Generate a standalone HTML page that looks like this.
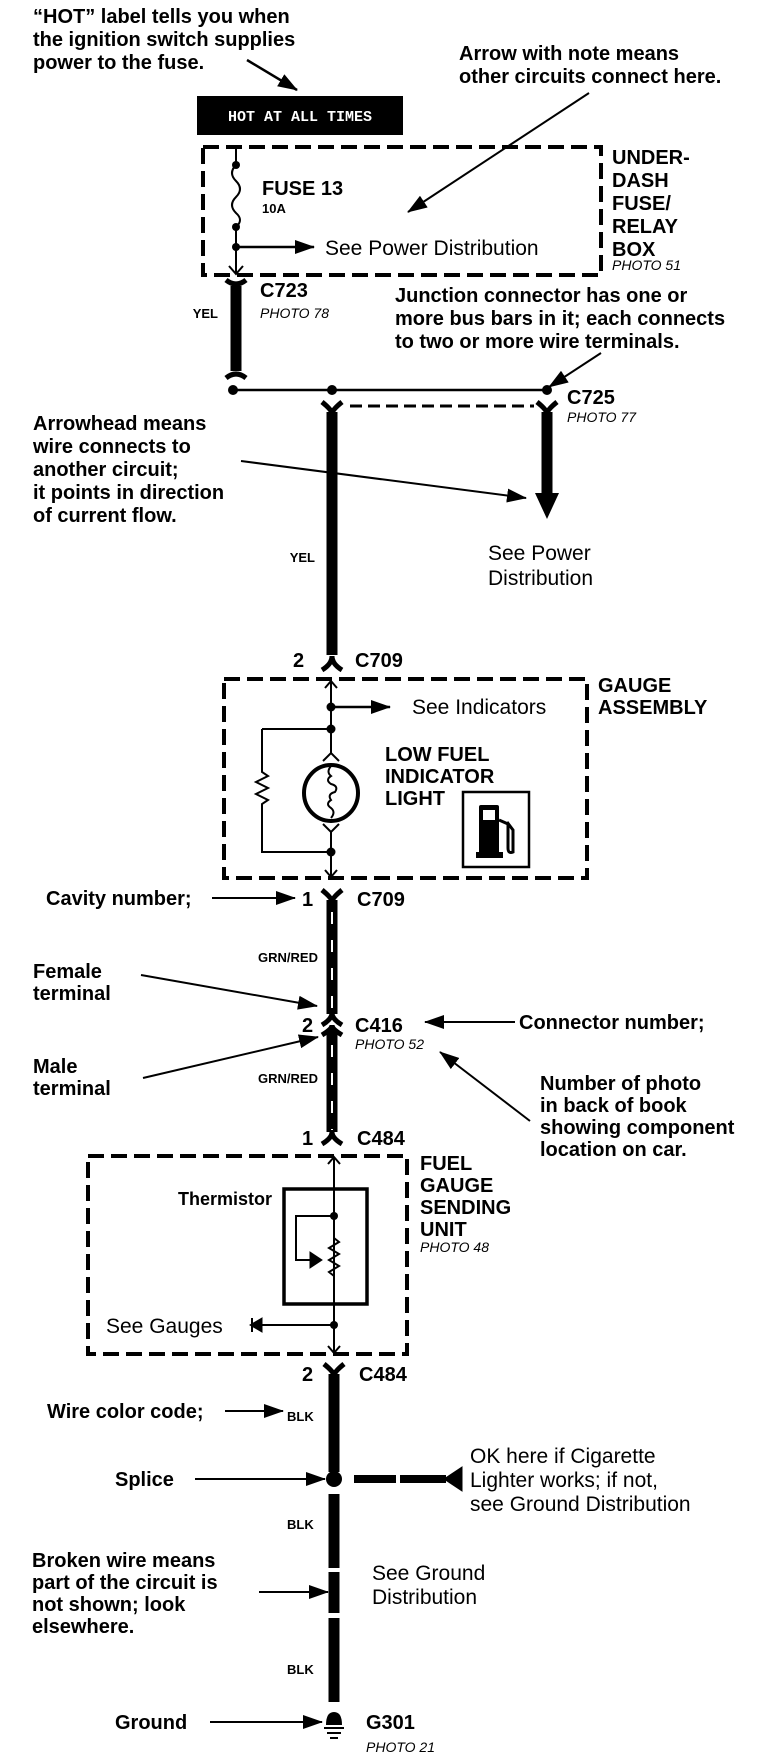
<!DOCTYPE html>
<html><head><meta charset="utf-8"><style>
html,body{margin:0;padding:0;background:#fff}
svg{display:block}
text{font-family:"Liberation Sans",Arial,sans-serif;fill:#000}
.b{font-weight:bold;font-size:20px}
.r{font-size:21px}
.s{font-weight:bold;font-size:13px}
.i{font-style:italic;font-size:14px}
</style></head><body>
<svg width="768" height="1758" viewBox="0 0 768 1758" xmlns="http://www.w3.org/2000/svg">
<defs>
<marker id="ahb" markerWidth="20" markerHeight="14" refX="19" refY="7" orient="auto" markerUnits="userSpaceOnUse"><path d="M0,0 L20,7 L0,14 z" fill="#000"/></marker>
</defs>
<g stroke="#000" fill="none">
<line x1="247" y1="60" x2="297" y2="90" stroke-width="2.5" marker-end="url(#ahb)"/>
<line x1="589" y1="93" x2="408" y2="212" stroke-width="2" marker-end="url(#ahb)"/>
<rect x="203" y="147" width="398" height="128" stroke-width="4" stroke-dasharray="16 7"/>
<line x1="236" y1="147" x2="236" y2="165" stroke-width="2"/>
<path d="M236,165 q-8,8 0,16 q8,8 0,16 q-8,8 0,16 q8,7 0,14" stroke-width="2"/>
<line x1="236" y1="227" x2="236" y2="274" stroke-width="2"/>
<path d="M229,266 L236,274 L243,266" stroke-width="2"/>
<line x1="236" y1="247" x2="314" y2="247" stroke-width="2.5" marker-end="url(#ahb)"/>
<line x1="236" y1="286" x2="236" y2="371" stroke-width="11"/>
<path d="M226,280 Q236,288 246,280" stroke-width="5"/>
<path d="M226,378 Q236,370 246,378" stroke-width="5"/>
<line x1="601" y1="353" x2="549" y2="387" stroke-width="2" marker-end="url(#ahb)"/>
<line x1="233" y1="390" x2="547" y2="390" stroke-width="2.5"/>
<line x1="350" y1="406" x2="534" y2="406" stroke-width="3" stroke-dasharray="12 6"/>
<path d="M322,402 Q332,410 332,414 Q332,410 342,402" stroke-width="5"/>
<path d="M537,402 Q547,410 547,414 Q547,410 557,402" stroke-width="5"/>
<line x1="332" y1="412" x2="332" y2="655" stroke-width="11"/>
<line x1="547" y1="412" x2="547" y2="493" stroke-width="11"/>
<path d="M535,493 L559,493 L547,519 z" fill="#000" stroke="none"/>
<line x1="241" y1="461" x2="526" y2="498" stroke-width="2" marker-end="url(#ahb)"/>
<path d="M322,670 Q332,664 332,656 Q332,664 342,670" stroke-width="5"/>
<rect x="224" y="679" width="363" height="199" stroke-width="4" stroke-dasharray="16 7"/>
<line x1="331" y1="681" x2="331" y2="753" stroke-width="2"/>
<path d="M325,688 L331,681 L337,688" stroke-width="2"/>
<line x1="331" y1="707" x2="390" y2="707" stroke-width="2.5" marker-end="url(#ahb)"/>
<path d="M262,729 L331,729 M262,729 L262,772 l6,4 l-12,6 l12,6 l-12,6 l12,6 l-6,4 L262,852 L331,852" stroke-width="2"/>
<path d="M323,761 L331,753 L339,761" stroke-width="2"/>
<ellipse cx="331" cy="793" rx="27" ry="28" stroke-width="4"/>
<path d="M331,766 q-5,6 0,10 q-6,4 0,8 q8,2 4,8 q-8,2 -4,8 q-6,4 0,8 q5,4 0,10" stroke-width="2"/>
<path d="M323,824 L331,832 L339,824" stroke-width="2"/>
<line x1="331" y1="832" x2="331" y2="877" stroke-width="2"/>
<path d="M325,870 L331,877 L337,870" stroke-width="2"/>
<rect x="463" y="792" width="66" height="75" stroke-width="2.5"/>
<path d="M322,890 Q332,898 332,902 Q332,898 342,890" stroke-width="5"/>
<line x1="332" y1="900" x2="332" y2="1014" stroke-width="11"/>
<line x1="212" y1="898" x2="295" y2="898" stroke-width="2" marker-end="url(#ahb)"/>
<line x1="332" y1="912" x2="332" y2="1010" stroke="#fff" stroke-width="2" stroke-dasharray="12 16"/>
<path d="M322,1025 Q332,1019 332,1013 Q332,1019 342,1025" stroke-width="5"/>
<path d="M322,1035 Q332,1029 332,1025 Q332,1029 342,1035" stroke-width="5"/>
<line x1="332" y1="1030" x2="332" y2="1132" stroke-width="11"/>
<line x1="332" y1="1045" x2="332" y2="1130" stroke="#fff" stroke-width="2" stroke-dasharray="12 16"/>
<path d="M322,1144 Q332,1138 332,1132 Q332,1138 342,1144" stroke-width="5"/>
<line x1="141" y1="975" x2="317" y2="1006" stroke-width="2" marker-end="url(#ahb)"/>
<line x1="143" y1="1078" x2="318" y2="1037" stroke-width="2" marker-end="url(#ahb)"/>
<line x1="515" y1="1022" x2="425" y2="1022" stroke-width="2" marker-end="url(#ahb)"/>
<line x1="530" y1="1121" x2="440" y2="1052" stroke-width="2" marker-end="url(#ahb)"/>
<rect x="88" y="1156" width="319" height="198" stroke-width="4" stroke-dasharray="16 7"/>
<line x1="334" y1="1157" x2="334" y2="1353" stroke-width="2"/>
<path d="M328,1164 L334,1157 L340,1164" stroke-width="2"/>
<rect x="284" y="1189" width="83" height="115" stroke-width="3.5"/>
<path d="M334,1216 L296,1216 L296,1260 L312,1260" stroke-width="2"/>
<path d="M310,1252 L322,1260 L310,1268 z" fill="#000"/>
<path d="M334,1238 l5,4 l-10,6 l10,6 l-10,6 l10,6 l-10,6 l5,4" stroke-width="2"/>
<line x1="334" y1="1325" x2="262" y2="1325" stroke-width="2"/>
<path d="M262,1318 L250,1325 L262,1332 z" fill="#000"/>
<path d="M252,1318 L252,1332" stroke-width="2"/>
<path d="M328,1346 L334,1353 L340,1346" stroke-width="2"/>
<path d="M324,1364 Q334,1372 334,1376 Q334,1372 344,1364" stroke-width="5"/>
<line x1="334" y1="1374" x2="334" y2="1472" stroke-width="11"/>
<line x1="225" y1="1411" x2="283" y2="1411" stroke-width="2" marker-end="url(#ahb)"/>
<line x1="195" y1="1479" x2="325" y2="1479" stroke-width="2" marker-end="url(#ahb)"/>
<line x1="354" y1="1479" x2="396" y2="1479" stroke-width="8"/>
<line x1="400" y1="1479" x2="446" y2="1479" stroke-width="8"/>
<path d="M462,1467 L444,1479 L462,1491 z" fill="#000"/>
<line x1="334" y1="1494" x2="334" y2="1568" stroke-width="11"/>
<line x1="334" y1="1572" x2="334" y2="1613" stroke-width="11"/>
<line x1="334" y1="1618" x2="334" y2="1702" stroke-width="11"/>
<line x1="259" y1="1592" x2="328" y2="1592" stroke-width="2" marker-end="url(#ahb)"/>
<line x1="210" y1="1722" x2="322" y2="1722" stroke-width="2" marker-end="url(#ahb)"/>
<path d="M324,1728 L344,1728 M327,1733 L341,1733 M330,1738 L338,1738" stroke-width="2"/>
</g>
<g fill="#000">
<circle cx="236" cy="165" r="4"/><circle cx="236" cy="227" r="4"/><circle cx="236" cy="247" r="4"/>
<circle cx="233" cy="390" r="5"/><circle cx="332" cy="390" r="5"/><circle cx="547" cy="390" r="5"/>
<circle cx="331" cy="707" r="4.5"/><circle cx="331" cy="729" r="4.5"/><circle cx="331" cy="852" r="4.5"/>
<circle cx="334" cy="1216" r="4"/><circle cx="334" cy="1325" r="4"/>
<circle cx="334" cy="1479" r="8"/>
<path d="M326,1725 Q326,1712 334,1712 Q342,1712 342,1725 z"/>
<rect x="197" y="96" width="206" height="39"/>
<rect x="479" y="805" width="20" height="50" rx="2"/>
<rect x="476" y="852" width="27" height="6"/>
<path d="M499,820 l9,4 l0,24 q0,6 5,4 l0,-22 l-6,-8" fill="none" stroke="#000" stroke-width="3"/>
</g>
<rect x="483" y="810" width="12" height="10" fill="#fff"/>
<g>
<text x="33" y="23" class="b">“HOT” label tells you when</text>
<text x="33" y="46" class="b">the ignition switch supplies</text>
<text x="33" y="69" class="b">power to the fuse.</text>
<text x="459" y="60" class="b">Arrow with note means</text>
<text x="459" y="83" class="b">other circuits connect here.</text>
<text x="300" y="121" text-anchor="middle" style="font-family:'Liberation Mono',monospace;font-size:15px;fill:#fff;font-weight:bold">HOT AT ALL TIMES</text>
<text x="262" y="195" class="b">FUSE 13</text>
<text x="262" y="213" class="s">10A</text>
<text x="325" y="255" class="r">See Power Distribution</text>
<text x="612" y="164" class="b">UNDER-</text>
<text x="612" y="187" class="b">DASH</text>
<text x="612" y="210" class="b">FUSE/</text>
<text x="612" y="233" class="b">RELAY</text>
<text x="612" y="256" class="b">BOX</text>
<text x="612" y="270" class="i">PHOTO 51</text>
<text x="260" y="297" class="b">C723</text>
<text x="260" y="318" class="i">PHOTO 78</text>
<text x="218" y="318" class="s" text-anchor="end">YEL</text>
<text x="395" y="302" class="b">Junction connector has one or</text>
<text x="395" y="325" class="b">more bus bars in it; each connects</text>
<text x="395" y="348" class="b">to two or more wire terminals.</text>
<text x="567" y="404" class="b">C725</text>
<text x="567" y="422" class="i">PHOTO 77</text>
<text x="33" y="430" class="b">Arrowhead means</text>
<text x="33" y="453" class="b">wire connects to</text>
<text x="33" y="476" class="b">another circuit;</text>
<text x="33" y="499" class="b">it points in direction</text>
<text x="33" y="522" class="b">of current flow.</text>
<text x="315" y="562" class="s" text-anchor="end">YEL</text>
<text x="488" y="560" class="r">See Power</text>
<text x="488" y="585" class="r">Distribution</text>
<text x="293" y="667" class="b">2</text>
<text x="355" y="667" class="b">C709</text>
<text x="598" y="692" class="b">GAUGE</text>
<text x="598" y="714" class="b">ASSEMBLY</text>
<text x="412" y="714" class="r">See Indicators</text>
<text x="385" y="761" class="b">LOW FUEL</text>
<text x="385" y="783" class="b">INDICATOR</text>
<text x="385" y="805" class="b">LIGHT</text>
<text x="46" y="905" class="b">Cavity number;</text>
<text x="302" y="906" class="b">1</text>
<text x="357" y="906" class="b">C709</text>
<text x="318" y="962" class="s" text-anchor="end">GRN/RED</text>
<text x="33" y="978" class="b">Female</text>
<text x="33" y="1000" class="b">terminal</text>
<text x="302" y="1032" class="b">2</text>
<text x="355" y="1032" class="b">C416</text>
<text x="355" y="1049" class="i">PHOTO 52</text>
<text x="519" y="1029" class="b">Connector number;</text>
<text x="33" y="1073" class="b">Male</text>
<text x="33" y="1095" class="b">terminal</text>
<text x="318" y="1083" class="s" text-anchor="end">GRN/RED</text>
<text x="540" y="1090" class="b">Number of photo</text>
<text x="540" y="1112" class="b">in back of book</text>
<text x="540" y="1134" class="b">showing component</text>
<text x="540" y="1156" class="b">location on car.</text>
<text x="302" y="1145" class="b">1</text>
<text x="357" y="1145" class="b">C484</text>
<text x="420" y="1170" class="b">FUEL</text>
<text x="420" y="1192" class="b">GAUGE</text>
<text x="420" y="1214" class="b">SENDING</text>
<text x="420" y="1236" class="b">UNIT</text>
<text x="420" y="1252" class="i">PHOTO 48</text>
<text x="272" y="1205" class="b" text-anchor="end" style="font-size:18px">Thermistor</text>
<text x="106" y="1333" class="r">See Gauges</text>
<text x="302" y="1381" class="b">2</text>
<text x="359" y="1381" class="b">C484</text>
<text x="47" y="1418" class="b">Wire color code;</text>
<text x="287" y="1421" class="s">BLK</text>
<text x="115" y="1486" class="b">Splice</text>
<text x="470" y="1463" class="r">OK here if Cigarette</text>
<text x="470" y="1487" class="r">Lighter works; if not,</text>
<text x="470" y="1511" class="r">see Ground Distribution</text>
<text x="287" y="1529" class="s">BLK</text>
<text x="32" y="1567" class="b">Broken wire means</text>
<text x="32" y="1589" class="b">part of the circuit is</text>
<text x="32" y="1611" class="b">not shown; look</text>
<text x="32" y="1633" class="b">elsewhere.</text>
<text x="372" y="1580" class="r">See Ground</text>
<text x="372" y="1604" class="r">Distribution</text>
<text x="287" y="1674" class="s">BLK</text>
<text x="115" y="1729" class="b">Ground</text>
<text x="366" y="1729" class="b">G301</text>
<text x="366" y="1752" class="i">PHOTO 21</text>
</g>
</svg>
</body></html>
